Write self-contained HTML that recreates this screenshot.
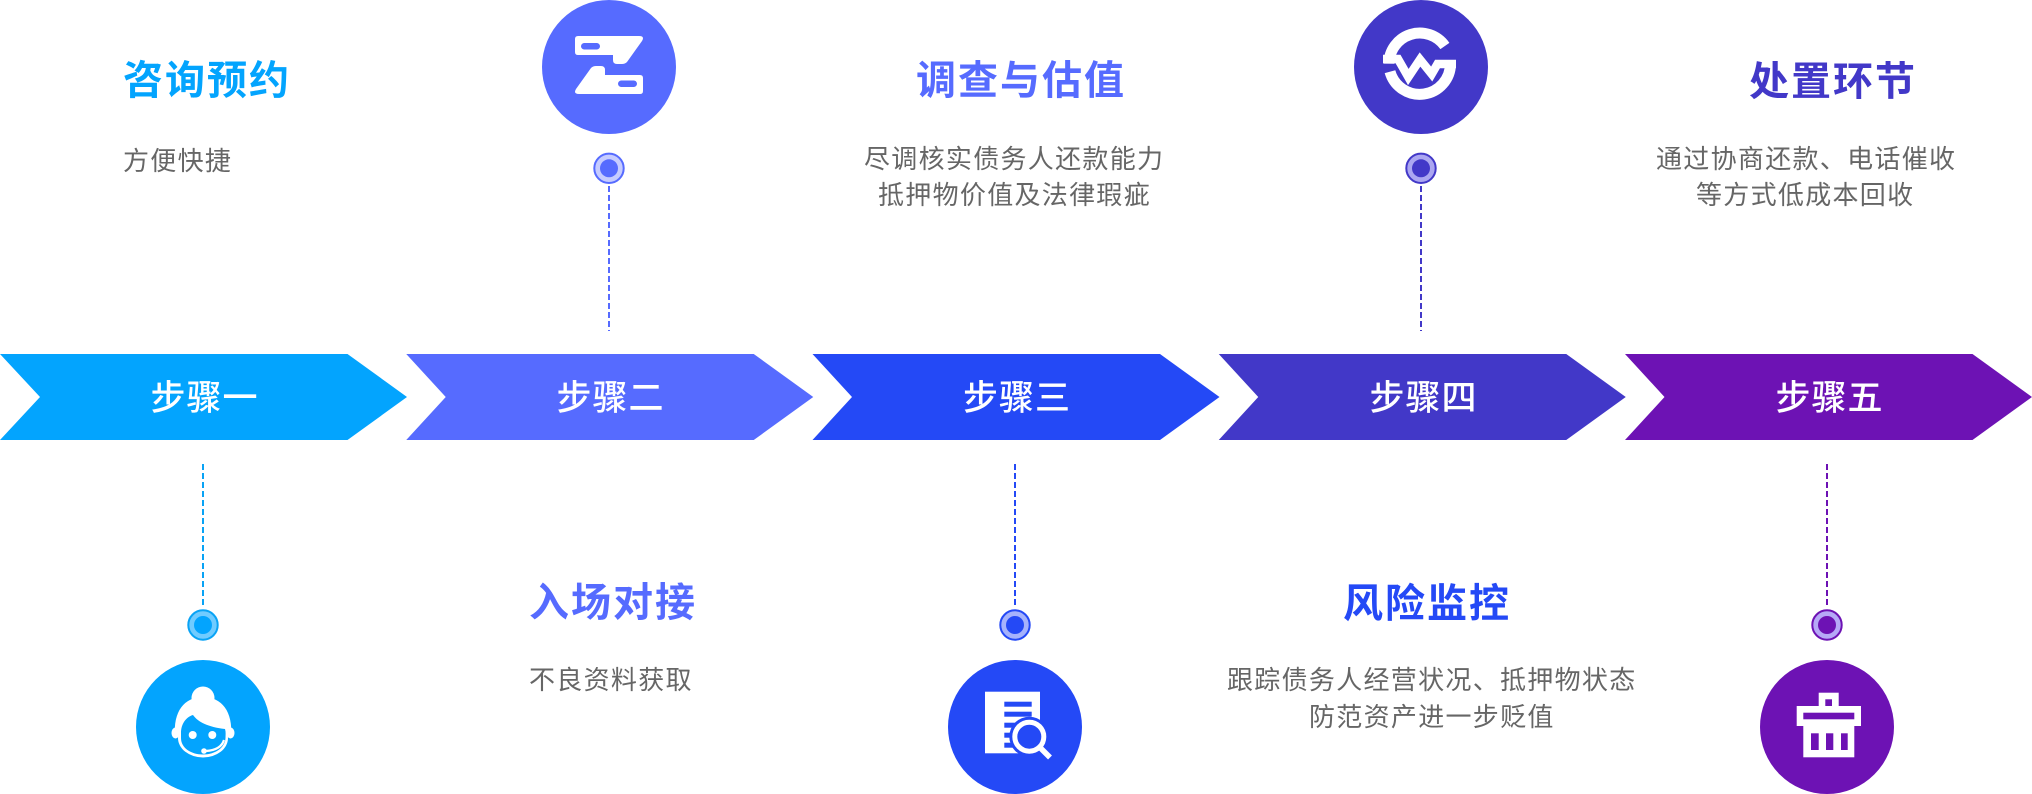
<!DOCTYPE html>
<html>
<head>
<meta charset="utf-8">
<style>
  html, body { margin:0; padding:0; background:#ffffff; }
  body { width:2032px; height:794px; position:relative; overflow:hidden;
         font-family:"Liberation Sans","Noto Sans CJK SC",sans-serif; }
  svg { position:absolute; left:0; top:0; }
  .t { position:absolute; white-space:nowrap; font-size:40px; line-height:40px;
       font-weight:700; letter-spacing:2px; }
  .d { position:absolute; white-space:nowrap; font-size:26px; line-height:26px;
       font-weight:400; letter-spacing:1.3px; color:#666666; }
  .s { position:absolute; top:381px; width:407px; text-align:center; white-space:nowrap;
       font-size:35px; line-height:35px; color:#ffffff; letter-spacing:1px; padding-left:1px;
       font-weight:500; }
</style>
</head>
<body>
<svg width="2032" height="794" viewBox="0 0 2032 794" xmlns="http://www.w3.org/2000/svg">
  <!-- Arrows -->
  <polygon points="0,354 347.5,354 407,397 347.5,440 0,440 40,397" fill="#03a4fe"/>
  <polygon points="406.25,354 753.75,354 813.25,397 753.75,440 406.25,440 445.75,397" fill="#566bff"/>
  <polygon points="812.5,354 1160,354 1219.5,397 1160,440 812.5,440 852,397" fill="#2449f6"/>
  <polygon points="1218.75,354 1566.25,354 1625.75,397 1566.25,440 1218.75,440 1258.25,397" fill="#4238c8"/>
  <polygon points="1625,354 1972.5,354 2032,397 1972.5,440 1625,440 1664.5,397" fill="#6d12b4"/>

  <!-- Dashed connectors -->
  <g stroke-width="2" stroke-dasharray="6 3" fill="none">
    <line x1="203" y1="464" x2="203" y2="608" stroke="#09a3f5"/>
    <line x1="609" y1="186" x2="609" y2="331" stroke="#566bff"/>
    <line x1="1015" y1="464" x2="1015" y2="608" stroke="#2449f6"/>
    <line x1="1421" y1="186" x2="1421" y2="331" stroke="#4238c8"/>
    <line x1="1827" y1="464" x2="1827" y2="608" stroke="#6d12b4"/>
  </g>

  <!-- Small dots -->
  <circle cx="203" cy="625" r="14.7" fill="#70cbff" stroke="#09a3f5" stroke-width="2"/>
  <circle cx="203" cy="625" r="9" fill="#03a4fe"/>
  <circle cx="609" cy="168.3" r="14.7" fill="#c6ccff" stroke="#566bff" stroke-width="2"/>
  <circle cx="609" cy="168.3" r="9" fill="#566bff"/>
  <circle cx="1015" cy="625" r="14.7" fill="#a5b2fc" stroke="#2449f6" stroke-width="2"/>
  <circle cx="1015" cy="625" r="9" fill="#2449f6"/>
  <circle cx="1421" cy="168.3" r="14.7" fill="#aba6f1" stroke="#4238c8" stroke-width="2"/>
  <circle cx="1421" cy="168.3" r="9" fill="#4238c8"/>
  <circle cx="1827" cy="625" r="14.7" fill="#b6a8f7" stroke="#6d12b4" stroke-width="2"/>
  <circle cx="1827" cy="625" r="9" fill="#6d12b4"/>

  <!-- Big circles -->
  <circle cx="203" cy="727" r="67" fill="#03a4fe"/>
  <circle cx="609" cy="67" r="67" fill="#566bff"/>
  <circle cx="1015" cy="727" r="67" fill="#2449f6"/>
  <circle cx="1421" cy="67" r="67" fill="#4238c8"/>
  <circle cx="1827" cy="727" r="67" fill="#6d12b4"/>

  <!-- Icon 1: headset lady -->
  <g fill="#ffffff">
    <circle cx="203" cy="698" r="11.5"/>
    <path d="M175 736 C173 712 184 697 203 697 C222 697 233 712 231 736 Z"/>
    <ellipse cx="175.5" cy="733" rx="4" ry="5.5"/>
    <ellipse cx="230.5" cy="733" rx="4" ry="5.5"/>
    <ellipse cx="203" cy="738" rx="25" ry="19.5"/>
  </g>
  <path d="M181 733 C181 724 186 717 193 715 C198 722 208 727 225 729 C226 732 225.5 735 225.5 738 C225 748 215 754.5 203 754.5 C191 754.5 181 748 181 738 Z" fill="#03a4fe"/>
  <circle cx="192.7" cy="735" r="4" fill="#ffffff"/>
  <circle cx="212.3" cy="735" r="4" fill="#ffffff"/>
  <path d="M224 740 Q221 750 206 751" stroke="#ffffff" stroke-width="2.2" fill="none"/>
  <circle cx="204" cy="751" r="2.8" fill="#ffffff"/>

  <!-- Icon 2: Z shape -->
  <g>
    <path d="M578 36 L639 36 Q645 36 642 41 L627 62 Q625 64 622 64 L617 64 Q613 64 613 60 L613 55 L578 55 Q575 55 575 52 L575 39 Q575 36 578 36 Z" fill="#ffffff"/>
    <rect x="581" y="43" width="19" height="6.5" rx="3.25" fill="#566bff"/>
    <g transform="rotate(180 609 65)">
      <path d="M578 36 L639 36 Q645 36 642 41 L627 62 Q625 64 622 64 L617 64 Q613 64 613 60 L613 55 L578 55 Q575 55 575 52 L575 39 Q575 36 578 36 Z" fill="#ffffff"/>
      <rect x="581" y="43" width="19" height="6.5" rx="3.25" fill="#566bff"/>
    </g>
  </g>

  <!-- Icon 3: document + magnifier -->
  <rect x="985" y="691.7" width="55" height="61.6" fill="#ffffff"/>
  <g fill="#2449f6">
    <rect x="1004.3" y="701.7" width="27.4" height="5"/>
    <rect x="1004.3" y="711.7" width="27.4" height="5"/>
    <rect x="1004.3" y="722.7" width="27.4" height="5"/>
    <rect x="1004.3" y="732.7" width="27.4" height="5"/>
    <rect x="1004.3" y="742.7" width="27.4" height="5"/>
    <circle cx="1029.3" cy="736.7" r="20"/>
  </g>
  <circle cx="1029.3" cy="736.7" r="14.5" fill="none" stroke="#ffffff" stroke-width="5"/>
  <line x1="1040.5" y1="748" x2="1050" y2="757.5" stroke="#ffffff" stroke-width="5.5"/>

  <!-- Icon 4: S with zigzag -->
  <g fill="none" stroke="#ffffff">
    <path d="M1389 63.7 A30.8 30.8 0 0 1 1444.9 46" stroke-width="11"/>
    <path d="M1450.5 63.7 A30.8 30.8 0 0 1 1390 71.7" stroke-width="11"/>
    <path d="M1383 59 L1398 59 L1408.3 77 L1420 59.5 L1431.7 74 L1437.5 64 L1456 64" stroke-width="8.5" stroke-linejoin="miter"/>
  </g>

  <!-- Icon 5: box / bin -->
  <g fill="#ffffff">
    <rect x="1818.7" y="692.7" width="20" height="14"/>
    <rect x="1796.7" y="706" width="64.3" height="20"/>
    <rect x="1803.3" y="725.5" width="51" height="31.8"/>
  </g>
  <g fill="#6d12b4">
    <rect x="1825.3" y="699.3" width="6.7" height="6.7"/>
    <rect x="1803.3" y="712.7" width="51" height="6.6"/>
    <rect x="1811" y="733.3" width="7.7" height="16.7"/>
    <rect x="1826" y="733.3" width="7.3" height="16.7"/>
    <rect x="1841" y="733.3" width="6.7" height="16.7"/>
  </g>
</svg>

<!-- Step labels -->
<div class="s" style="left:0px;">步骤一</div>
<div class="s" style="left:406px;">步骤二</div>
<div class="s" style="left:812.5px;">步骤三</div>
<div class="s" style="left:1219px;">步骤四</div>
<div class="s" style="left:1625px;">步骤五</div>

<!-- Titles -->
<div class="t" style="left:123px;top:61px;color:#03a4fe;">咨询预约</div>
<div class="t" style="left:529px;top:583px;color:#566bff;">入场对接</div>
<div class="t" style="left:916px;top:60.5px;color:#566bff;">调查与估值</div>
<div class="t" style="left:1343px;top:584px;color:#2449f6;">风险监控</div>
<div class="t" style="left:1749px;top:62px;color:#4238c8;">处置环节</div>

<!-- Descriptions -->
<div class="d" style="left:123px;top:148px;">方便快捷</div>
<div class="d" style="left:529px;top:667px;">不良资料获取</div>
<div class="d" style="left:864px;top:145.5px;">尽调核实债务人还款能力</div>
<div class="d" style="left:878px;top:182px;">抵押物价值及法律瑕疵</div>
<div class="d" style="left:1227px;top:667px;">跟踪债务人经营状况、抵押物状态</div>
<div class="d" style="left:1309px;top:704px;">防范资产进一步贬值</div>
<div class="d" style="left:1656px;top:145.5px;">通过协商还款、电话催收</div>
<div class="d" style="left:1696px;top:182px;">等方式低成本回收</div>
</body>
</html>
